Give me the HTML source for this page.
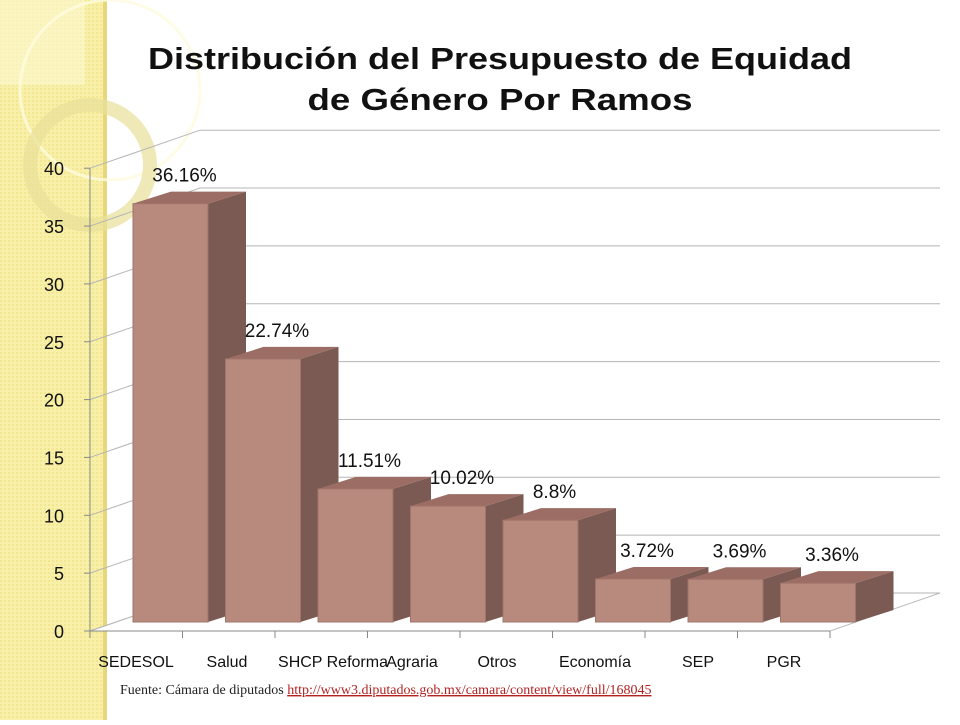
<!DOCTYPE html>
<html><head><meta charset="utf-8"><style>
body{margin:0;width:960px;height:720px;overflow:hidden;background:#fff;font-family:"Liberation Sans",sans-serif}
</style></head><body>
<svg width="960" height="720" viewBox="0 0 960 720" xmlns="http://www.w3.org/2000/svg">
<defs>
<pattern id="dots" width="4" height="4" patternUnits="userSpaceOnUse"><rect width="4" height="4" fill="#f8f0a8"/><rect width="2" height="2" fill="#f2e690"/></pattern>
</defs>
<g>
<rect x="0" y="0" width="104" height="720" fill="url(#dots)"/>
<rect x="0" y="0" width="85" height="85" fill="#fbf6cc" opacity="0.7"/>
<rect x="103" y="0" width="4" height="720" fill="#e6d77a"/>
<circle cx="110" cy="90" r="90" fill="none" stroke="#fffbe0" stroke-width="3" opacity="0.8"/>
<circle cx="90" cy="165" r="60" fill="none" stroke="#e8df9a" stroke-width="14" opacity="0.7"/>
</g>
<text x="500" y="69" text-anchor="middle" font-size="31" font-weight="bold" fill="#111" textLength="704" lengthAdjust="spacingAndGlyphs">Distribución del Presupuesto de Equidad</text>
<text x="500" y="110" text-anchor="middle" font-size="31" font-weight="bold" fill="#111" textLength="385" lengthAdjust="spacingAndGlyphs">de Género Por Ramos</text>
<g id="grid"></g>
<g id="bars"></g>
<text x="120" y="694" font-family="Liberation Serif,serif" font-size="14" fill="#222">Fuente: Cámara de diputados <tspan fill="#b22222" text-decoration="underline">http://www3.diputados.gob.mx/camara/content/view/full/168045</tspan></text>
</svg>
<script>
const categories=["SEDESOL","Salud","SHCP","Reforma Agraria","Otros","Economía","SEP","PGR"];
const values=[36.16,22.74,11.51,10.02,8.8,3.72,3.69,3.36];
const valueLabels=["36.16%","22.74%","11.51%","10.02%","8.8%","3.72%","3.69%","3.36%"];
const yTicks=[0,5,10,15,20,25,30,35,40];
const catLabels=["SEDESOL","Salud","SHCP Reforma","Agraria","Otros","Economía","SEP","PGR"];
const NS="http://www.w3.org/2000/svg";
const x0=90,y0=631,unit=11.57,DX=110,DY=-38,x1=830,step=(x1-x0)/categories.length;
function yS(v){return y0-v*unit;}
function mk(t,a,p){const e=document.createElementNS(NS,t);for(const k in a)e.setAttribute(k,a[k]);p.appendChild(e);return e;}
const g=document.getElementById('grid');
const floor=mk('polygon',{points:`${x0},${y0} ${x1},${y0} ${x1+DX},${y0+DY} ${x0+DX},${y0+DY}`,fill:'#fff',stroke:'#bbb'},g);


yTicks.forEach(v=>{
  const y=yS(v);
  const l=mk('polyline',{points:`${x0},${y} ${x0+DX},${y+DY} 940,${y+DY}`,fill:'none',stroke:'#b5b5b5','stroke-width':1},g);
  
  
  mk('line',{x1:x0-6,y1:y,x2:x0,y2:y,stroke:'#888'},g);
  const t=mk('text',{x:64,y:y+7,'text-anchor':'end','font-size':18,fill:'#111'},g);
  t.textContent=v;
  
  
});
mk('line',{x1:x0,y1:yS(40),x2:x0,y2:y0,stroke:'#888'},g);
mk('line',{x1:x0,y1:y0,x2:x1,y2:y0,stroke:'#888'},g);
for(let i=0;i<=categories.length;i++){const x=x0+i*step;mk('line',{x1:x,y1:y0,x2:x,y2:y0+7,stroke:'#888'},g);}
const labX=[136,227,333,412,497,595,698,784];
catLabels.forEach((c,i)=>{
  const t=mk('text',{x:labX[i],y:667,'text-anchor':'middle','font-size':16,fill:'#111'},g);
  t.textContent=c;
  
  
});
const b=document.getElementById('bars');
const bb=622,w=75,dx=38,dy=-12;
values.forEach((v,i)=>{
  const xl=x0+i*step+43,top=bb-v*unit;
  const grp=mk('g',{},b);
  
  
  mk('polygon',{points:`${xl+w},${bb} ${xl+w+dx},${bb+dy} ${xl+w+dx},${top+dy} ${xl+w},${top}`,fill:'#7a5a52'},grp);
  mk('polygon',{points:`${xl},${top} ${xl+dx},${top+dy} ${xl+w+dx},${top+dy} ${xl+w},${top}`,fill:'#9c6d64'},grp);
  mk('rect',{x:xl,y:top,width:w,height:bb-top,fill:'#b88a7e',stroke:'#a07469','stroke-width':1},grp);
  const t=mk('text',{x:xl+w/2+14,y:top-22,'text-anchor':'middle','font-size':19,fill:'#111'},b);
  t.textContent=valueLabels[i];
  
  
});
</script>
</body></html>
